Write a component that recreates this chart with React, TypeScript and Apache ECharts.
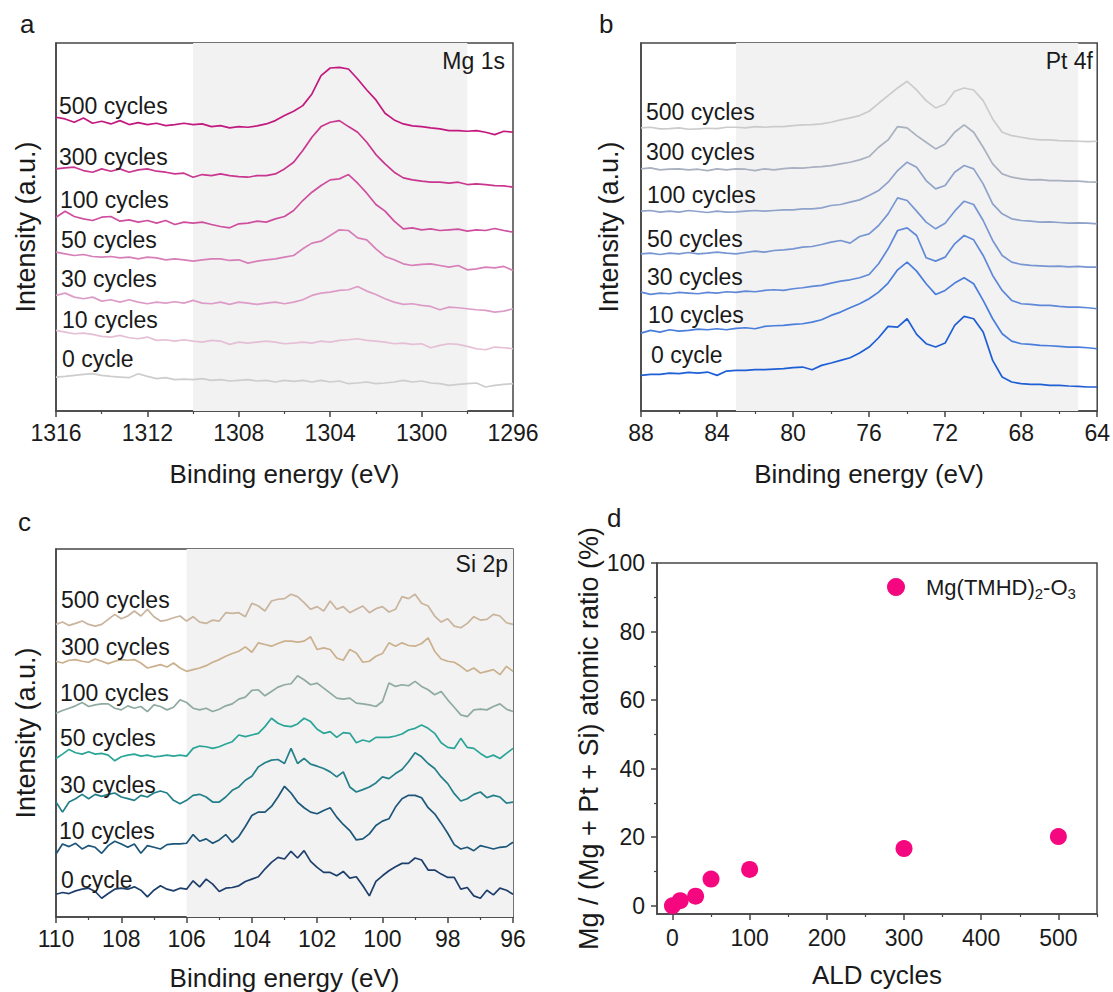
import React, { useEffect, useRef } from "react";
import * as echarts from "echarts";

const FONT = "'Liberation Sans', Arial, Helvetica, sans-serif";
const INK = "#1a1a1a";
const FRAME = "#454545";

const cycleLabels = ["500 cycles", "300 cycles", "100 cycles", "50 cycles", "30 cycles", "10 cycles", "0 cycle"];

// ---------- Panel a: Mg 1s ----------
const energyMg = [1316, 1315.6, 1315.2, 1314.8, 1314.4, 1314, 1313.6, 1313.2, 1312.8, 1312.4, 1312, 1311.6, 1311.2, 1310.8, 1310.4, 1310, 1309.6, 1309.2, 1308.8, 1308.4, 1308, 1307.6, 1307.2, 1306.8, 1306.4, 1306, 1305.6, 1305.2, 1304.8, 1304.4, 1304, 1303.6, 1303.2, 1302.8, 1302.4, 1302, 1301.6, 1301.2, 1300.8, 1300.4, 1300, 1299.6, 1299.2, 1298.8, 1298.4, 1298, 1297.6, 1297.2, 1296.8, 1296.4, 1296];
const mg500 = [882, 877, 867, 880, 864, 870, 862, 872, 860, 866, 860, 864, 857, 860, 864, 860, 862, 854, 857, 850, 854, 852, 856, 862, 872, 887, 900, 917, 952, 1007, 1030, 1032, 1027, 997, 964, 934, 894, 874, 862, 856, 854, 850, 847, 842, 842, 840, 842, 837, 830, 840, 837];
const mg300 = [727, 730, 732, 722, 717, 727, 720, 727, 717, 724, 727, 720, 717, 712, 714, 702, 710, 707, 712, 707, 704, 702, 707, 707, 712, 727, 747, 782, 822, 854, 867, 872, 854, 837, 807, 770, 742, 717, 700, 694, 690, 687, 687, 684, 687, 680, 682, 680, 677, 676, 672];
const mg100 = [582, 600, 584, 577, 572, 582, 584, 570, 574, 567, 572, 564, 572, 560, 567, 564, 567, 560, 554, 550, 562, 564, 570, 567, 577, 584, 602, 632, 657, 677, 694, 697, 710, 684, 654, 620, 600, 570, 547, 550, 544, 547, 542, 544, 546, 540, 544, 542, 548, 542, 537];
const mg50 = [477, 472, 467, 470, 464, 462, 464, 460, 462, 457, 462, 460, 454, 457, 454, 450, 454, 457, 457, 452, 454, 444, 450, 454, 457, 462, 467, 487, 504, 510, 527, 544, 542, 520, 514, 487, 464, 454, 442, 437, 440, 442, 437, 432, 437, 424, 427, 432, 430, 434, 422];
const mg30 = [347, 354, 342, 337, 342, 330, 334, 327, 334, 327, 322, 327, 324, 328, 324, 332, 324, 322, 327, 320, 327, 324, 320, 324, 327, 322, 327, 334, 347, 354, 357, 362, 364, 374, 360, 350, 337, 327, 320, 322, 317, 314, 304, 312, 310, 307, 304, 302, 297, 300, 307];
const mg10 = [242, 237, 232, 234, 230, 224, 222, 227, 220, 217, 222, 212, 214, 210, 214, 210, 207, 212, 210, 200, 207, 204, 207, 210, 207, 202, 204, 207, 204, 210, 207, 212, 214, 217, 212, 210, 207, 202, 204, 200, 202, 190, 197, 202, 200, 194, 187, 184, 192, 190, 187];
const mg0 = [102, 104, 107, 110, 112, 107, 104, 102, 100, 112, 104, 97, 100, 94, 96, 94, 97, 92, 94, 90, 92, 94, 90, 92, 87, 92, 89, 92, 87, 92, 87, 90, 82, 84, 87, 82, 84, 87, 92, 87, 90, 84, 82, 77, 80, 82, 84, 72, 77, 80, 82];
const mgColors = ["#c2197f", "#c9368f", "#cf4f9f", "#d77fb8", "#dd9cc8", "#e5bfd6", "#cdcdcd"];

// ---------- Panel b: Pt 4f ----------
const energyPt = [88, 87.5, 87, 86.5, 86, 85.5, 85, 84.5, 84, 83.5, 83, 82.5, 82, 81.5, 81, 80.5, 80, 79.5, 79, 78.5, 78, 77.5, 77, 76.5, 76, 75.5, 75, 74.5, 74, 73.5, 73, 72.5, 72, 71.5, 71, 70.5, 70, 69.5, 69, 68.5, 68, 67.5, 67, 66.5, 66, 65.5, 65, 64.5, 64];
const pt500 = [850, 852, 847, 848, 850, 846, 847, 849, 848, 852, 852, 850, 854, 852, 854, 854, 857, 859, 860, 862, 867, 874, 880, 887, 900, 924, 947, 970, 990, 964, 932, 910, 922, 960, 970, 964, 932, 877, 837, 827, 822, 817, 814, 814, 812, 811, 810, 809, 810];
const pt300 = [727, 730, 724, 726, 727, 724, 726, 722, 727, 724, 727, 726, 722, 727, 724, 728, 730, 729, 732, 734, 737, 742, 747, 754, 764, 792, 814, 854, 850, 827, 807, 787, 802, 837, 859, 837, 792, 742, 712, 702, 697, 694, 695, 692, 692, 690, 690, 688, 687];
const pt100 = [600, 602, 597, 600, 597, 602, 599, 596, 600, 597, 598, 600, 602, 600, 602, 604, 604, 607, 607, 610, 617, 620, 627, 634, 647, 662, 687, 722, 747, 732, 692, 667, 677, 717, 737, 727, 682, 622, 592, 577, 572, 570, 567, 568, 566, 564, 565, 564, 562];
const pt50 = [472, 474, 470, 474, 472, 476, 472, 474, 477, 474, 472, 476, 480, 477, 482, 484, 487, 492, 494, 500, 507, 512, 504, 524, 532, 557, 592, 640, 632, 600, 567, 547, 564, 600, 630, 620, 572, 512, 467, 447, 440, 437, 436, 434, 435, 433, 434, 432, 432];
const pt30 = [357, 350, 354, 352, 356, 354, 352, 356, 354, 358, 356, 360, 358, 362, 364, 362, 367, 370, 374, 377, 384, 390, 394, 400, 410, 442, 487, 542, 550, 527, 460, 450, 462, 502, 527, 514, 467, 407, 362, 332, 322, 320, 317, 317, 314, 312, 312, 310, 307];
const pt10 = [234, 242, 237, 244, 240, 242, 246, 244, 247, 244, 248, 250, 247, 254, 256, 257, 260, 262, 267, 274, 287, 297, 310, 322, 337, 357, 384, 424, 447, 420, 382, 350, 362, 384, 400, 382, 332, 277, 232, 210, 202, 200, 197, 196, 194, 192, 192, 190, 187];
const pt0 = [107, 110, 110, 114, 112, 116, 114, 117, 107, 120, 122, 122, 124, 124, 126, 127, 130, 132, 124, 137, 144, 152, 160, 174, 192, 220, 254, 252, 277, 230, 202, 192, 204, 257, 284, 277, 237, 152, 102, 87, 82, 80, 80, 77, 77, 75, 74, 72, 72];
const ptColors = ["#cbcbcb", "#a9b0bf", "#8fa2ca", "#7896d2", "#5f89d8", "#4a7edc", "#1f5fd6"];

// ---------- Panel c: Si 2p ----------
const energySi = [110, 109.8, 109.6, 109.4, 109.2, 109, 108.8, 108.6, 108.4, 108.2, 108, 107.8, 107.6, 107.4, 107.2, 107, 106.8, 106.6, 106.4, 106.2, 106, 105.8, 105.6, 105.4, 105.2, 105, 104.8, 104.6, 104.4, 104.2, 104, 103.8, 103.6, 103.4, 103.2, 103, 102.8, 102.6, 102.4, 102.2, 102, 101.8, 101.6, 101.4, 101.2, 101, 100.8, 100.6, 100.4, 100.2, 100, 99.8, 99.6, 99.4, 99.2, 99, 98.8, 98.6, 98.4, 98.2, 98, 97.8, 97.6, 97.4, 97.2, 97, 96.8, 96.6, 96.4, 96.2, 96];
const si500 = [873, 880, 870, 876, 883, 873, 868, 873, 888, 903, 890, 898, 913, 898, 918, 896, 883, 886, 893, 898, 883, 896, 880, 876, 886, 883, 908, 906, 908, 896, 936, 928, 913, 943, 948, 950, 963, 956, 938, 918, 926, 913, 943, 918, 926, 908, 918, 928, 908, 920, 926, 910, 918, 956, 950, 963, 936, 928, 898, 880, 890, 868, 863, 876, 896, 886, 888, 903, 898, 878, 873];
const si300 = [763, 758, 766, 768, 763, 760, 770, 763, 756, 763, 768, 766, 768, 758, 743, 748, 753, 746, 758, 743, 733, 738, 743, 750, 760, 768, 778, 786, 793, 806, 790, 818, 813, 808, 816, 823, 823, 820, 823, 836, 798, 803, 798, 773, 766, 798, 788, 760, 763, 778, 786, 818, 808, 818, 810, 808, 816, 833, 793, 770, 763, 760, 748, 733, 743, 728, 733, 738, 723, 748, 733];
const si100 = [608, 616, 623, 630, 640, 628, 633, 636, 636, 623, 618, 630, 623, 628, 613, 633, 628, 618, 626, 648, 640, 623, 618, 623, 613, 620, 630, 636, 650, 656, 676, 678, 660, 673, 686, 693, 696, 720, 708, 693, 698, 683, 668, 653, 650, 653, 638, 636, 633, 628, 643, 698, 688, 693, 690, 703, 688, 678, 663, 673, 648, 626, 603, 598, 618, 620, 618, 628, 636, 620, 613];
const si50 = [473, 486, 500, 490, 486, 493, 486, 488, 483, 466, 478, 483, 486, 480, 483, 478, 480, 483, 480, 483, 480, 503, 510, 508, 503, 508, 516, 523, 543, 538, 543, 548, 568, 593, 578, 570, 568, 576, 593, 583, 560, 548, 553, 536, 550, 548, 520, 528, 523, 536, 536, 536, 540, 546, 558, 563, 573, 563, 548, 520, 506, 503, 533, 506, 503, 488, 476, 483, 473, 488, 503];
const si30 = [343, 313, 343, 353, 366, 353, 366, 360, 366, 370, 358, 353, 348, 363, 358, 370, 376, 370, 348, 338, 348, 363, 366, 358, 343, 343, 358, 378, 388, 408, 420, 448, 460, 468, 470, 458, 503, 458, 473, 456, 450, 443, 433, 418, 433, 388, 373, 380, 388, 400, 418, 413, 428, 440, 463, 490, 478, 458, 443, 418, 398, 368, 346, 353, 366, 373, 356, 363, 358, 340, 343];
const si10 = [188, 218, 210, 220, 203, 213, 208, 190, 213, 226, 218, 208, 218, 190, 213, 208, 203, 216, 218, 218, 220, 246, 226, 233, 220, 230, 246, 223, 240, 270, 303, 313, 313, 330, 358, 390, 370, 343, 326, 313, 308, 318, 326, 298, 276, 258, 230, 233, 248, 273, 286, 293, 328, 353, 363, 363, 356, 326, 308, 280, 250, 216, 203, 208, 198, 213, 208, 203, 208, 210, 223];
const si0 = [68, 73, 70, 78, 83, 86, 76, 56, 70, 83, 86, 83, 90, 80, 60, 80, 93, 83, 78, 86, 83, 108, 90, 113, 98, 76, 86, 88, 93, 106, 113, 120, 143, 163, 178, 173, 196, 176, 198, 166, 148, 133, 133, 123, 136, 116, 120, 93, 63, 106, 123, 138, 150, 160, 160, 176, 170, 140, 140, 128, 118, 118, 83, 88, 63, 56, 80, 66, 86, 80, 68];
const siColors = ["#c9b49d", "#cbb08d", "#8fab9f", "#2aa597", "#237f89", "#1c5679", "#1e3f6c"];

// ---------- Panel d: atomic ratio ----------
const aldCycles = [0, 10, 30, 50, 100, 300, 500];
const mgRatio = [0, 1.5, 2.8, 7.8, 10.6, 16.7, 20.2];
const ratioName = "Mg(TMHD)2-O3";
const dXTicks = [0, 100, 200, 300, 400, 500];
const dXMinor = [50, 150, 250, 350, 450, 550];
const dYTicks = [0, 20, 40, 60, 80, 100];
const dYMinor = [10, 30, 50, 70, 90];

const labelPosA = [[59, 106], [59, 157], [60, 200], [61, 240], [61, 279], [62, 320], [62, 359]];
const labelPosB = [[646, 112], [646, 152], [647, 195], [647, 239], [647, 277], [648, 315], [651, 355]];
const labelPosC = [[61, 600], [61, 647], [60, 693], [60, 738], [60, 785], [59, 831], [61, 880]];

function pairs(xs: number[], ys: number[]) {
  return xs.map((x, i) => [x, ys[i]]);
}

const plainNum = (v: number) => String(v);

function specX(gi: number, min: number, max: number, interval: number, gap: number) {
  return {
    gridIndex: gi,
    type: "value",
    min,
    max,
    interval,
    inverse: true,
    name: "Binding energy (eV)",
    nameLocation: "middle",
    nameGap: gap,
    nameTextStyle: { fontSize: 26, color: INK, fontFamily: FONT },
    axisLine: { onZero: false, lineStyle: { color: FRAME, width: 1.5 } },
    axisTick: { length: 6, lineStyle: { color: FRAME, width: 1.5 } },
    minorTick: { show: true, splitNumber: 2, length: 3, lineStyle: { color: FRAME, width: 1.2 } },
    axisLabel: { fontSize: 23, color: INK, fontFamily: FONT, margin: 10, formatter: plainNum },
    splitLine: { show: false },
    minorSplitLine: { show: false },
  };
}

function specY(gi: number, max: number, gap: number) {
  return {
    gridIndex: gi,
    type: "value",
    min: 0,
    max,
    name: "Intensity (a.u.)",
    nameLocation: "middle",
    nameRotate: 90,
    nameGap: gap,
    nameTextStyle: { fontSize: 27, color: INK, fontFamily: FONT },
    axisLine: { show: true, onZero: false, lineStyle: { color: FRAME, width: 1.5 } },
    axisTick: { show: false },
    axisLabel: { show: false },
    splitLine: { show: false },
  };
}

function specSeries(gi: number, xs: number[], rows: number[][], colors: string[], shade: [number, number]) {
  const out: any[] = [
    {
      type: "line",
      xAxisIndex: gi,
      yAxisIndex: gi,
      data: [],
      z: 1,
      silent: true,
      markArea: {
        silent: true,
        itemStyle: { color: "#f2f2f2" },
        data: [[{ xAxis: shade[0] }, { xAxis: shade[1] }]],
      },
    },
  ];
  rows.forEach((r, i) => {
    out.push({
      type: "line",
      name: cycleLabels[i],
      xAxisIndex: gi,
      yAxisIndex: gi,
      data: pairs(xs, r),
      showSymbol: false,
      z: 3,
      lineStyle: { color: colors[i], width: 1.7 },
      itemStyle: { color: colors[i] },
    });
  });
  return out;
}

function labelTexts(pos: number[][]) {
  return pos.map((p, i) => ({
    type: "text",
    x: p[0],
    y: p[1],
    z: 10,
    style: { text: cycleLabels[i], fontSize: 23, fontFamily: FONT, fill: INK, align: "left", verticalAlign: "middle" },
  }));
}

function plainText(t: string, x: number, y: number, align: string, size = 23) {
  return {
    type: "text",
    x,
    y,
    z: 10,
    style: { text: t, fontSize: size, fontFamily: FONT, fill: INK, align, verticalAlign: "middle" },
  };
}

export default function App() {
  const ref = useRef<HTMLDivElement>(null);
  useEffect(() => {
    if (!ref.current) return;
    const chart = echarts.init(ref.current, undefined, { renderer: "svg" });
    const gridBase = { show: true, borderColor: FRAME, borderWidth: 1.5, backgroundColor: "transparent" };
    const option: any = {
      animation: false,
      backgroundColor: "#ffffff",
      textStyle: { fontFamily: FONT },
      grid: [
        { ...gridBase, left: 56, top: 43, width: 457, height: 368 },
        { ...gridBase, left: 641, top: 43, width: 458, height: 368 },
        { ...gridBase, left: 56, top: 549, width: 457, height: 371 },
        { ...gridBase, left: 657, top: 563, width: 440, height: 351 },
      ],
      xAxis: [
        specX(0, 1296, 1316, 4, 50),
        specX(1, 64, 88, 4, 50),
        specX(2, 96, 110, 2, 48),
        {
          gridIndex: 3,
          type: "value",
          min: -20,
          max: 550,
          name: "ALD cycles",
          nameLocation: "middle",
          nameGap: 48,
          nameTextStyle: { fontSize: 26, color: INK, fontFamily: FONT },
          axisLine: { onZero: false, lineStyle: { color: FRAME, width: 1.5 } },
          axisTick: { customValues: dXTicks, length: 6, lineStyle: { color: FRAME, width: 1.5 } },
          axisLabel: { customValues: dXTicks, fontSize: 23, color: INK, fontFamily: FONT, margin: 12, formatter: plainNum },
          splitLine: { show: false },
        },
        {
          gridIndex: 3,
          type: "value",
          min: -20,
          max: 550,
          position: "bottom",
          axisLine: { show: false, onZero: false },
          axisTick: { customValues: dXMinor, length: 3, lineStyle: { color: FRAME, width: 1.2 } },
          axisLabel: { show: false },
          splitLine: { show: false },
        },
      ],
      yAxis: [
        specY(0, 1105, 17),
        specY(1, 1105, 19),
        specY(2, 1098, 17),
        {
          gridIndex: 3,
          type: "value",
          min: -2.4,
          max: 100,
          name: "Mg / (Mg + Pt + Si) atomic ratio (%)",
          nameLocation: "middle",
          nameRotate: 90,
          nameGap: 51,
          nameTextStyle: { fontSize: 27, color: INK, fontFamily: FONT },
          axisLine: { onZero: false, lineStyle: { color: FRAME, width: 1.5 } },
          axisTick: { customValues: dYTicks, length: 6, lineStyle: { color: FRAME, width: 1.5 } },
          axisLabel: { customValues: dYTicks, fontSize: 23, color: INK, fontFamily: FONT, margin: 12, formatter: plainNum },
          splitLine: { show: false },
        },
        {
          gridIndex: 3,
          type: "value",
          min: -2.4,
          max: 100,
          position: "left",
          axisLine: { show: false, onZero: false },
          axisTick: { customValues: dYMinor, length: 3, lineStyle: { color: FRAME, width: 1.2 } },
          axisLabel: { show: false },
          splitLine: { show: false },
        },
      ],
      legend: {
        left: 882,
        top: 571,
        icon: "circle",
        itemWidth: 18,
        itemHeight: 18,
        data: [ratioName],
        formatter: () => "{a|Mg(TMHD)}{s|2}{a|-O}{s|3}",
        textStyle: {
          padding: [0, 0, 0, 16],
          rich: {
            a: { fontSize: 22, color: INK, fontFamily: FONT },
            s: { fontSize: 15, color: INK, fontFamily: FONT, padding: [12, 0, 0, 0] },
          },
        },
      },
      series: [
        ...specSeries(0, energyMg, [mg500, mg300, mg100, mg50, mg30, mg10, mg0], mgColors, [1310, 1298]),
        ...specSeries(1, energyPt, [pt500, pt300, pt100, pt50, pt30, pt10, pt0], ptColors, [83, 65]),
        ...specSeries(2, energySi, [si500, si300, si100, si50, si30, si10, si0], siColors, [106, 96]),
        {
          type: "scatter",
          name: ratioName,
          xAxisIndex: 3,
          yAxisIndex: 3,
          data: pairs(aldCycles, mgRatio),
          symbolSize: 17,
          itemStyle: { color: "#f5077f", opacity: 1 },
          z: 5,
        },
      ],
      graphic: [
        ...labelTexts(labelPosA),
        ...labelTexts(labelPosB),
        ...labelTexts(labelPosC),
        plainText("Mg 1s", 505, 61, "right"),
        plainText("Pt 4f", 1093, 61, "right"),
        plainText("Si 2p", 508, 564, "right"),
        plainText("a", 20, 24, "left", 26),
        plainText("b", 599, 24, "left", 26),
        plainText("c", 18, 522, "left", 26),
        plainText("d", 607, 518, "left", 26),
      ],
    };
    chart.setOption(option);
    return () => chart.dispose();
  }, []);
  return <div ref={ref} style={{ position: "fixed", left: 0, top: 0, width: 1113, height: 992 }} />;
}
